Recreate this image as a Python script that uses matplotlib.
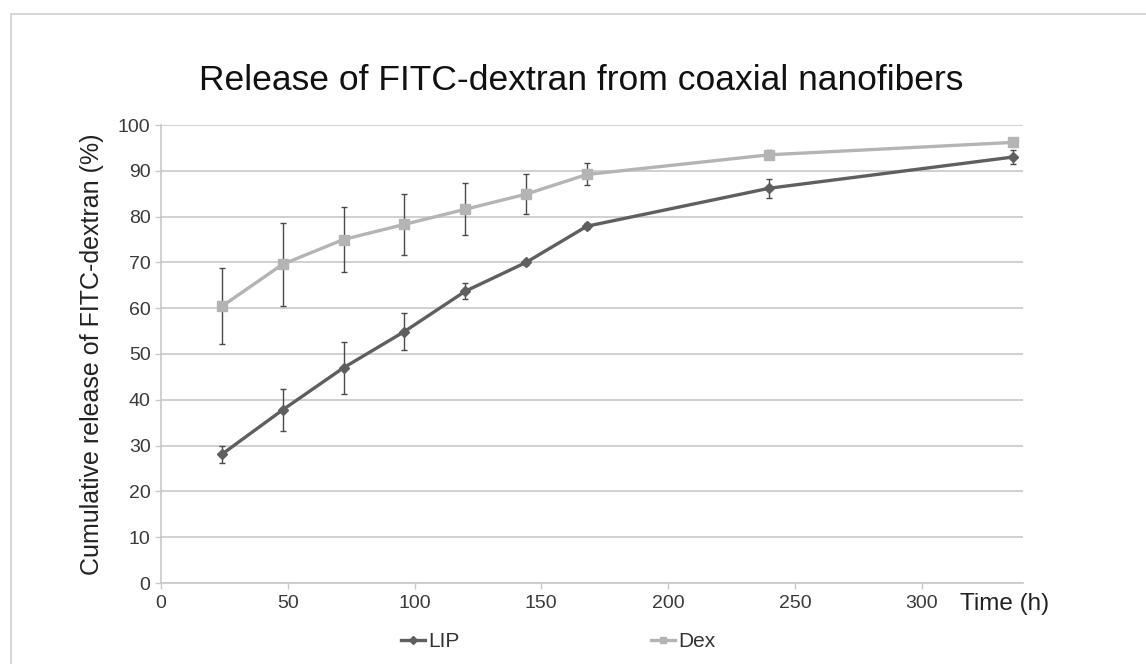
import matplotlib.pyplot as plt
from matplotlib.patches import Rectangle
from matplotlib.lines import Line2D

plt.rcParams['font.family'] = ['Liberation Sans', 'DejaVu Sans']

time_h = [24, 48, 72, 96, 120, 144, 168, 240, 336]
lip = [28.1, 37.8, 47.0, 54.9, 63.7, 70.0, 77.9, 86.2, 93.0]
lip_err = [1.8, 4.6, 5.7, 4.0, 1.7, 0.6, 0.6, 2.1, 1.6]
dex = [60.4, 69.6, 75.0, 78.3, 81.6, 84.9, 89.2, 93.5, 96.2]
dex_err = [8.3, 9.1, 7.2, 6.6, 5.7, 4.4, 2.4, 1.0, 0.6]

lip_color = '#5f5f5f'
dex_color = '#b4b4b4'

W, H = 1146, 664
fig = plt.figure(figsize=(W / 100, H / 100), dpi=100)

# thin frame of the original chart area
fig.patches.append(Rectangle((11 / W, -0.1), 1.2, (H - 14) / H + 0.1,
                             transform=fig.transFigure, fill=False,
                             edgecolor='#d0d0d0', linewidth=1.2))

ax = fig.add_axes([161 / W, 1 - 583 / H, (1023 - 161) / W, (583 - 125) / H])

ax.errorbar(time_h, lip, yerr=lip_err, color=lip_color, marker='D', markersize=5,
            linewidth=2.4, ecolor='#4a4a4a', elinewidth=1, capsize=2.5, capthick=1,
            zorder=3)
ax.errorbar(time_h, dex, yerr=dex_err, color=dex_color, marker='s', markersize=7,
            linewidth=2.4, ecolor='#4a4a4a', elinewidth=1, capsize=2.5, capthick=1,
            zorder=2)

ax.set_xlim(0, 340)
ax.set_ylim(0, 100)
ax.set_xticks(range(0, 301, 50))
ax.set_yticks(range(0, 101, 10))
ax.yaxis.grid(True, color='#c8c8c8', linewidth=1.2)
ax.set_axisbelow(True)
for s in ['top', 'right']:
    ax.spines[s].set_visible(False)
for s in ['left', 'bottom']:
    ax.spines[s].set_color('#c8c8c8')
    ax.spines[s].set_linewidth(1.2)
ax.tick_params(axis='both', colors='#c8c8c8', labelcolor='#3a3a3a', labelsize=14,
               length=4, width=1)
ax.tick_params(axis='x', pad=5)

fig.text(581 / W, 1 - 81 / H, 'Release of FITC-dextran from coaxial nanofibers',
         fontsize=25.5, color='#111111', ha='center', va='center')
ax.set_ylabel('Cumulative release of FITC-dextran (%)', fontsize=18,
              color='#222222', labelpad=10)
ax.text(0.927, -0.045, 'Time (h)', transform=ax.transAxes, fontsize=17.5,
        color='#222222', ha='left', va='center')

handles = [Line2D([], [], color=lip_color, marker='D', markersize=4, linewidth=2.4),
           Line2D([], [], color=dex_color, marker='s', markersize=5, linewidth=2.4)]
ax.legend(handles, ['LIP', 'Dex'], loc='upper center', bbox_to_anchor=(0.461, -0.066),
          ncol=2, frameon=False, fontsize=15, columnspacing=9.2, handlelength=1.15,
          handletextpad=0.15, labelcolor='#333333')

fig.savefig('out.png', dpi=100)
